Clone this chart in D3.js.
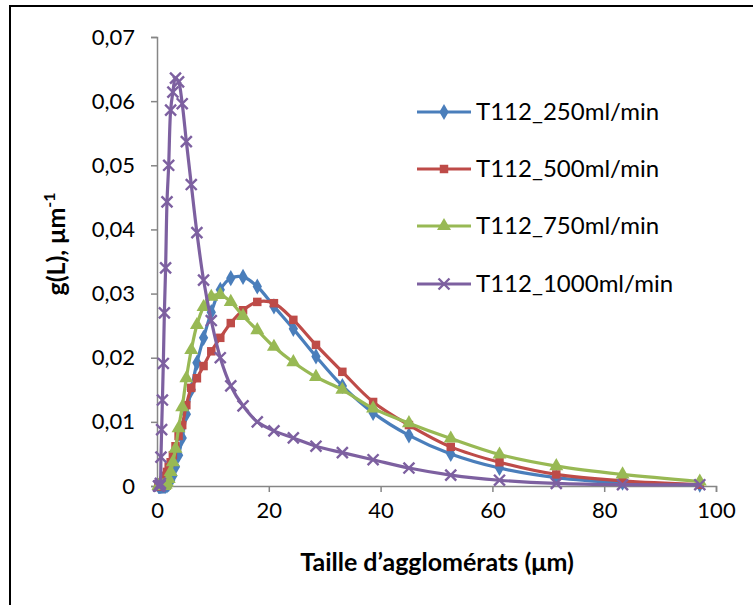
<!DOCTYPE html>
<html>
<head>
<meta charset="utf-8">
<script src="https://cdn.jsdelivr.net/npm/d3@7"></script>
<style>
  body { margin: 0; background: #fff; }
  text { font-family: Lato, "Open Sans", sans-serif; }
</style>
</head>
<body>
<svg id="chart" width="753" height="605"></svg>
<script>
// particle size classes (µm)
const sizes = [0.28, 0.33, 0.39, 0.45, 0.53, 0.61, 0.71, 0.83, 0.97, 1.13, 1.32, 1.54, 1.79, 2.09, 2.44, 2.84, 3.31, 3.86,
  4.51, 5.25, 6.13, 7.14, 8.33, 9.71, 11.32, 13.20, 15.39, 17.94, 20.92, 24.39, 28.44, 33.16, 38.66, 45.07, 52.55, 61.27,
  71.43, 83.28, 97.10];

const g250 = [0, 0, 0, 0, 0, 0, 0, 0, 0, 0, 0, 0, 0.0001, 0.0003, 0.0008, 0.0016, 0.0030, 0.0048,
  0.0075, 0.0112, 0.0150, 0.0192, 0.0231, 0.0271, 0.0306, 0.0324, 0.0326, 0.0311, 0.0280, 0.0245, 0.0202, 0.0156, 0.0114, 0.0079, 0.0050, 0.0028,
  0.0013, 0.0005, 0.0002];
const g500 = [0, 0, 0, 0, 0, 0.0001, 0.0002, 0.0003, 0.0005, 0.0008, 0.0011, 0.0016, 0.0022, 0.0030, 0.0037, 0.0048, 0.0062, 0.0078,
  0.0095, 0.0126, 0.0153, 0.0168, 0.0187, 0.0210, 0.0231, 0.0254, 0.0274, 0.0287, 0.0285, 0.0259, 0.0220, 0.0178, 0.0131, 0.0095, 0.0061, 0.0037,
  0.0018, 0.0008, 0.0002];
const g750 = [0, 0, 0, 0, 0, 0, 0, 0, 0, 0, 0, 0.0002, 0.0005, 0.0011, 0.0022, 0.0037, 0.0058, 0.0090,
  0.0123, 0.0168, 0.0212, 0.0251, 0.0279, 0.0295, 0.0298, 0.0287, 0.0265, 0.0243, 0.0217, 0.0193, 0.0170, 0.0150, 0.0121, 0.0098, 0.0074, 0.0049,
  0.0031, 0.0018, 0.0007];
const g1000 = [0, 0, 0, 0, 0.0001, 0.0004, 0.0045, 0.0088, 0.0134, 0.0191, 0.0270, 0.0340, 0.0443, 0.0500, 0.0586, 0.0614, 0.0636, 0.0630,
  0.0596, 0.0537, 0.0470, 0.0395, 0.0321, 0.0258, 0.0200, 0.0156, 0.0125, 0.0100, 0.0086, 0.0075, 0.0062, 0.0052, 0.0041, 0.0028, 0.0017, 0.0009,
  0.0004, 0.0002, 0.0002];

const seriesNames = ["T112_250ml/min", "T112_500ml/min", "T112_750ml/min", "T112_1000ml/min"];
const xTicks = [0, 20, 40, 60, 80, 100];
const yTicks = [0, 0.01, 0.02, 0.03, 0.04, 0.05, 0.06, 0.07];

const colors = ["#4A7EBB", "#BE4B48", "#98B954", "#7D60A0"];
const shapes = ["diamond", "square", "triangle", "cross"];

const svg = d3.select("#chart");

// outer frame
svg.append("rect")
  .attr("x", 10).attr("y", 6)
  .attr("width", 760).attr("height", 620)
  .attr("fill", "none").attr("stroke", "#000").attr("stroke-width", 2);

const x = d3.scaleLinear().domain([0, 100]).range([157, 716]);
const y = d3.scaleLinear().domain([0, 0.07]).range([486, 37]);

const fmt = d => d === 0 ? "0" : d3.format(".2f")(d).replace(".", ",");

// axes
const yAxis = svg.append("g")
  .attr("transform", "translate(157,0)")
  .call(d3.axisLeft(y).tickValues(yTicks).tickFormat(fmt).tickSize(6).tickPadding(16));
const xAxis = svg.append("g")
  .attr("transform", "translate(0,486)")
  .call(d3.axisBottom(x).tickValues(xTicks).tickSize(6).tickPadding(10));

[xAxis, yAxis].forEach(a => {
  a.select(".domain").attr("stroke", "#868686").attr("stroke-width", 1.5);
  a.selectAll(".tick line").attr("stroke", "#868686").attr("stroke-width", 1.5);
  a.selectAll(".tick text").attr("fill", "#000").attr("font-size", 22).attr("font-family", "Lato");
});

// axis titles
svg.append("text")
  .attr("x", 437).attr("y", 571)
  .attr("text-anchor", "middle")
  .attr("font-size", 25).attr("font-weight", "bold")
  .text("Taille d\u2019agglomérats (μm)");

const yt = svg.append("text")
  .attr("transform", "translate(65,244) rotate(-90)")
  .attr("text-anchor", "middle")
  .attr("font-size", 25).attr("font-weight", "bold");
yt.append("tspan").text("g(L), μm");
yt.append("tspan").attr("dy", -10).attr("font-size", 16).text("-1");

// marker drawing
function marker(sel, shape, color) {
  if (shape === "cross") {
    sel.append("path")
      .attr("d", d3.symbol(d3.symbolTimes, 80)())
      .attr("fill", "none").attr("stroke", color).attr("stroke-width", 2.4);
  } else {
    const sym = shape === "diamond" ? d3.symbolDiamond : shape === "square" ? d3.symbolSquare : d3.symbolTriangle;
    const size = shape === "diamond" ? 75 : shape === "square" ? 72 : 85;
    sel.append("path")
      .attr("d", d3.symbol(sym, size)())
      .attr("fill", color);
  }
}

const allSeries = [g250, g500, g750, g1000];
const line = d3.line()
  .x(d => x(d[0]))
  .y(d => y(d[1]))
  .curve(d3.curveCatmullRom.alpha(0.5));

allSeries.forEach((vals, i) => {
  const pts = sizes.map((s, j) => [s, vals[j]]);
  const g = svg.append("g");
  g.append("path")
    .datum(pts)
    .attr("d", line)
    .attr("fill", "none")
    .attr("stroke", colors[i])
    .attr("stroke-width", 3.2);
  g.selectAll("g.m")
    .data(pts)
    .enter().append("g")
    .attr("class", "m")
    .attr("transform", d => `translate(${x(d[0])},${y(d[1])})`)
    .each(function() { marker(d3.select(this), shapes[i], colors[i]); });
});

// legend
const legendY = [112, 169, 226, 284];
const legend = svg.append("g");
seriesNames.forEach((name, i) => {
  const row = legend.append("g").attr("transform", `translate(0,${legendY[i]})`);
  row.append("line")
    .attr("x1", 417).attr("x2", 471)
    .attr("stroke", colors[i]).attr("stroke-width", 3);
  const m = row.append("g").attr("transform", "translate(444,0)");
  marker(m, shapes[i], colors[i]);
  row.append("text")
    .attr("x", 476).attr("y", 8)
    .attr("font-size", 24)
    .text(name);
});
</script>
</body>
</html>
